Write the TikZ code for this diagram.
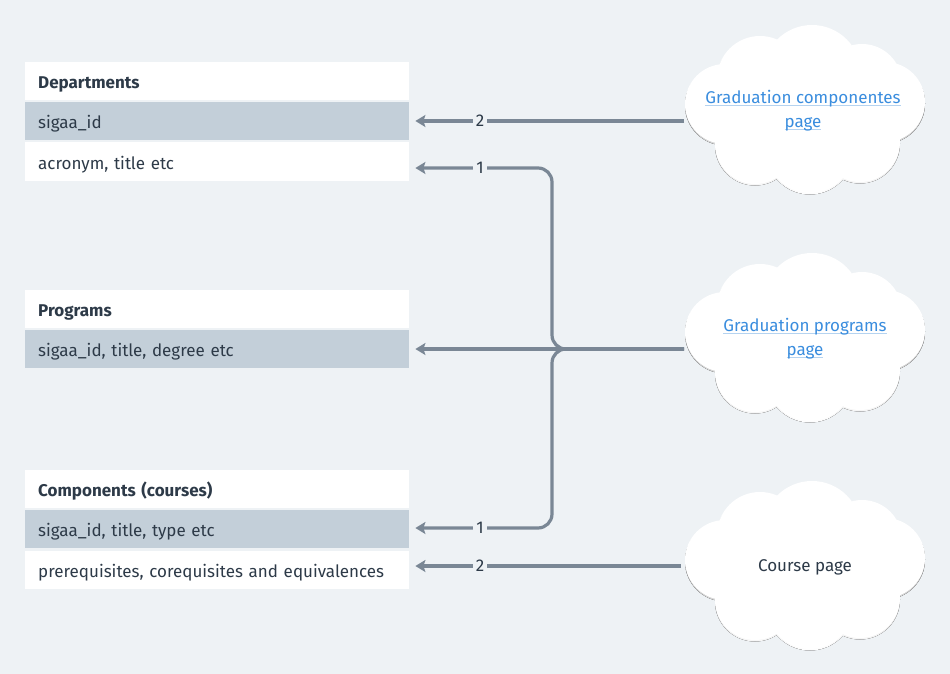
\documentclass[tikz,border=0pt]{standalone}
\usepackage{fontspec}
\setmainfont{Fira Sans}
\usetikzlibrary{arrows.meta}
\definecolor{bg}{HTML}{EEF2F5}
\definecolor{rowgray}{HTML}{C3CFD9}
\definecolor{txt}{HTML}{2D3A48}
\definecolor{conncol}{HTML}{7A8795}
\definecolor{linkc}{HTML}{3A8DDE}
\definecolor{linkul}{HTML}{B5D3F0}
\definecolor{shade}{HTML}{E3E8ED}
\newcommand\ulk[1]{{\setbox0\hbox{\color{linkc}#1}\rlap{\color{linkul}\rule[-2.5pt]{\wd0}{1.3pt}}\box0}}
\newcommand\cloudblobs{%
  (7,-35) circle[radius=49]
  (-45,-30) circle[radius=43]
  (57,-25) circle[radius=40]
  (-80,-5) circle[radius=40]
  (80,-7) circle[radius=40]
  (-50,35) circle[radius=40]
  (5,40) circle[radius=44]
  (55,33) circle[radius=40]
  (0,0) ellipse[x radius=95, y radius=55]}
\begin{document}
\begin{tikzpicture}[x=1pt,y=-1pt,
 row/.style={rectangle, fill=white, minimum width=384pt, minimum height=38pt, text width=358pt, text height=15pt, text depth=0pt, inner xsep=13pt, inner ysep=0pt, align=left, anchor=west, font=\fontsize{17}{18}\selectfont, text=txt},
 hdr/.style={row, font=\fontsize{17}{18}\selectfont\bfseries},
 grayrow/.style={row, fill=rowgray},
 link/.style={draw=conncol, line width=3.2pt, -{Stealth[length=10pt,width=12pt,inset=2pt]}, rounded corners=14pt, shorten >=6pt},
 num/.style={fill=bg, text=txt, inner xsep=3pt, inner ysep=1pt, font=\fontsize{17}{18}\selectfont},
 ctext/.style={align=center, font=\fontsize{17}{24}\selectfont, text=txt},
 pics/cloudpic/.style={code={
   \fill[shade] [yshift=-1.5pt] \cloudblobs;
   \fill[white] \cloudblobs;
 }},
]
\fill[bg] (0,0) rectangle (950,674);
\useasboundingbox (0,0) rectangle (950,674);

% tables
\node[hdr]  (dh) at (25,81)    {Departments};
\node[grayrow] (ds) at (25,121)   {sigaa\_id};
\node[row]  (da) at (25,161.5) {acronym, title etc};

\node[hdr]  (ph) at (25,309) {Programs};
\node[grayrow] (ps) at (25,349) {sigaa\_id, title, degree etc};

\node[hdr]  (ch) at (25,489)   {Components (courses)};
\node[grayrow] (cs) at (25,529)   {sigaa\_id, title, type etc};
\node[row]  (cp) at (25,569.5) {prerequisites, corequisites and equivalences};

% clouds
\pic (c1) at (805,109) {cloudpic};
\pic (c2) at (805,337) {cloudpic};
\pic (c3) at (805,565) {cloudpic};
\node[ctext] (t1) at (803,111) {\ulk{Graduation componentes}\\\ulk{page}};
\node[ctext] (t2) at (805,339) {\ulk{Graduation programs}\\\ulk{page}};
\node[ctext] (t3) at (805,567) {Course page};

% connectors
\coordinate (s1) at (684,121);
\coordinate (s2) at (684,349);
\coordinate (s3) at (681,566);
\coordinate (jm) at (552,349);
\coordinate (jt) at (552,168);
\coordinate (jb) at (552,528);
\draw[link] (s1) -- (ds.east);
\draw[link] (s2) -- (jm) -- (jt) -- (da.east |- jt);
\draw[link] (s2) -- (ps.east);
\draw[link] (s2) -- (jm) -- (jb) -- (cs.east |- jb);
\draw[link] (s3) -- (cp.east |- s3);

\node[num] (n1) at (480,121) {2};
\node[num] (n2) at (480,168) {1};
\node[num] (n3) at (480,528) {1};
\node[num] (n4) at (480,566) {2};
\end{tikzpicture}
\end{document}
